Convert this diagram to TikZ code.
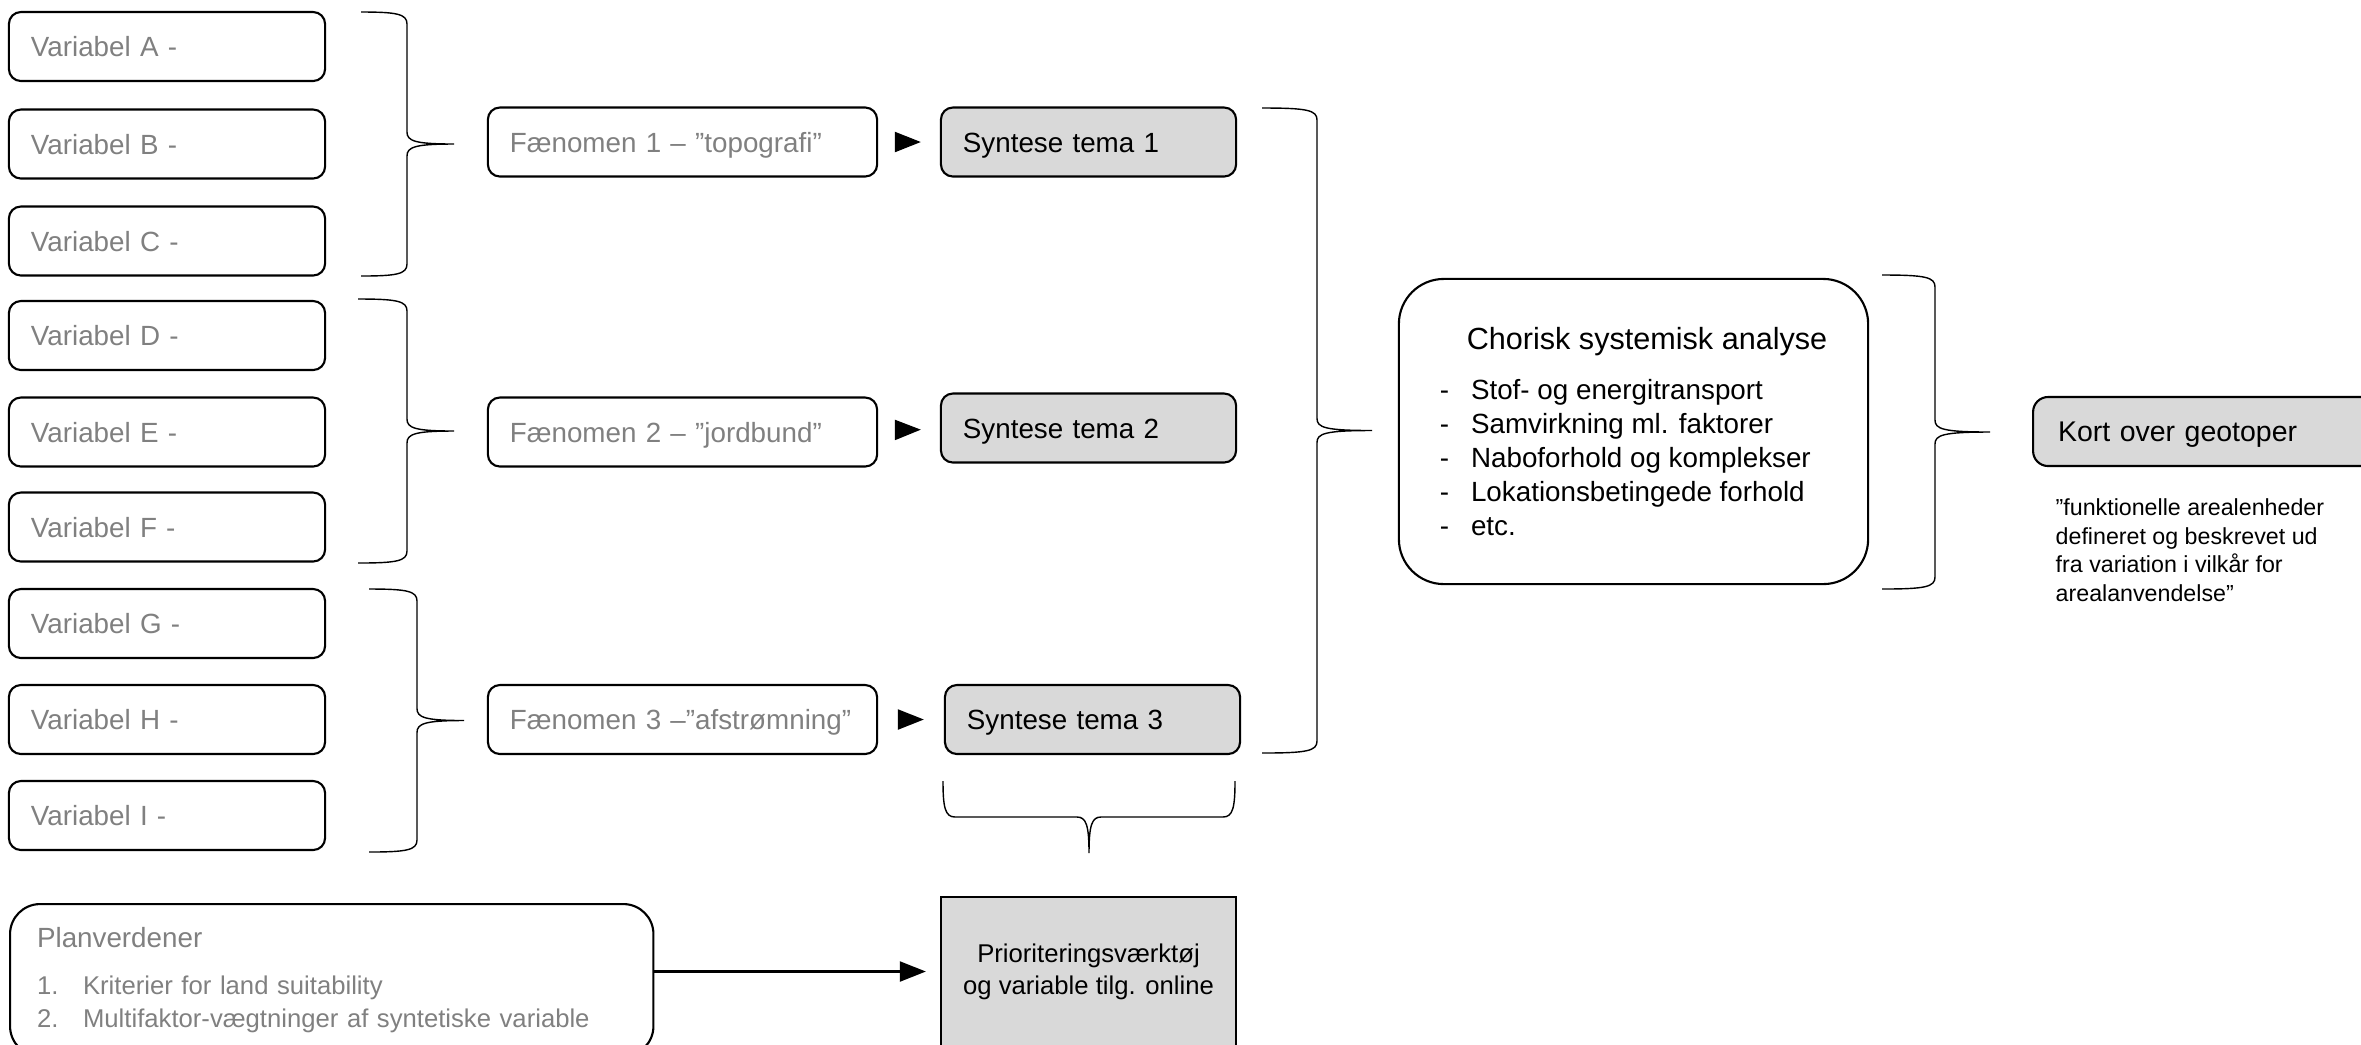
\documentclass[tikz,border=0pt]{standalone}
\usepackage{fontspec}
\setmainfont{Liberation Sans}
\usetikzlibrary{arrows.meta}
\definecolor{txtgray}{HTML}{808080}
\definecolor{boxgray}{HTML}{D9D9D9}
\tikzset{
	varbox/.style={draw,line width=0.6pt,rounded corners=0.12cm,minimum height=0.69cm,text width=2.72cm,text height=5.7pt,text depth=0pt,inner xsep=0.22cm,align=left,text=txtgray,font=\fontsize{7.9}{9.5}\selectfont},
	phenbox/.style={varbox,text width=3.45cm},
	synbox/.style={varbox,fill=boxgray,text=black,text width=2.51cm},
	bracestyle/.style={line width=0.4pt},
	tri/.style={-{Triangle[length=0.26cm,width=0.2cm]},line width=0.6pt}
}
% vertical brace: ends x, stem x, tip x, top y, bottom y
\newcommand{\vbrace}[5]{\draw[bracestyle] (#1,#4) .. controls ({#2-10},#4) and (#2,{#4+2}) .. (#2,{#4+12})
	-- (#2,{(#4+#5)/2-12}) .. controls (#2,{(#4+#5)/2-3}) and ({#2+8},{(#4+#5)/2}) .. (#3,{(#4+#5)/2})
	.. controls ({#2+8},{(#4+#5)/2}) and (#2,{(#4+#5)/2+3}) .. (#2,{(#4+#5)/2+12})
	-- (#2,{#5-12}) .. controls (#2,{#5-2}) and ({#2-10},#5) .. (#1,#5);}
% horizontal brace: ends y, stem y, tip y, left x, right x
\newcommand{\hbrace}[5]{\draw[bracestyle] (#4,#1) .. controls (#4,{#2-10}) and ({#4+2},#2) .. ({#4+12},#2)
	-- ({(#4+#5)/2-12},#2) .. controls ({(#4+#5)/2-3},#2) and ({(#4+#5)/2},{#2+8}) .. ({(#4+#5)/2},#3)
	.. controls ({(#4+#5)/2},{#2+8}) and ({(#4+#5)/2+3},#2) .. ({(#4+#5)/2+12},#2)
	-- ({#5-12},#2) .. controls ({#5-2},#2) and (#5,{#2-10}) .. (#5,#1);}
\begin{document}
\begin{tikzpicture}[x=0.01cm,y=-0.01cm]
	\useasboundingbox (0,0) rectangle (2361,1044);
	\clip (0,0) rectangle (2361,1044);
	
	\node[varbox] (vA) at (167,46.5){Variabel A -};
	\node[varbox] (vB) at (167,144){Variabel B -};
	\node[varbox] (vC) at (167,241){Variabel C -};
	\node[varbox] (vD) at (167,335.5){Variabel D -};
	\node[varbox] (vE) at (167,432){Variabel E -};
	\node[varbox] (vF) at (167,527){Variabel F -};
	\node[varbox] (vG) at (167,623.5){Variabel G -};
	\node[varbox] (vH) at (167,719.5){Variabel H -};
	\node[varbox] (vI) at (167,815.5){Variabel I -};
	
	\node[phenbox] (f1) at (682.5,142){Fænomen 1 – ”topografi”};
	\node[phenbox] (f2) at (682.5,432){Fænomen 2 – ”jordbund”};
	\node[phenbox] (f3) at (682.5,719.5){Fænomen 3 –”afstrømning”};
	
	\node[synbox] (s1) at (1088.5,142){Syntese tema 1};
	\node[synbox] (s2) at (1088.5,428){Syntese tema 2};
	\node[synbox] (s3) at (1092.5,719.5){Syntese tema 3};
	
	\node[draw,line width=0.6pt,rounded corners=0.45cm,minimum width=4.69cm,minimum height=3.05cm,align=left,font=\fontsize{7.9}{9.7}\selectfont] (cha) at (1633.5,431.5){\hspace*{0.27cm}{\fontsize{8.7}{10.4}\selectfont Chorisk systemisk analyse}\\[0.16cm]
		-\hspace{0.22cm}Stof- og energitransport\\
		-\hspace{0.22cm}Samvirkning ml. faktorer\\
		-\hspace{0.22cm}Naboforhold og komplekser\\
		-\hspace{0.22cm}Lokationsbetingede forhold\\
		-\hspace{0.22cm}etc.};
	
	\node[synbox,anchor=west,text width=3.6cm,inner xsep=0.25cm,rounded corners=0.15cm,font=\fontsize{8.1}{9.7}\selectfont] (kort) at (2032,431.5){Kort over geotoper};
	\node[anchor=base west,align=left,inner sep=0,font=\fontsize{6.6}{8.1}\selectfont] (citat) at (2055,601){”funktionelle arealenheder\\defineret og beskrevet ud\\fra variation i vilkår for\\arealanvendelse”};
	
	\node[draw,line width=0.6pt,rounded corners=0.3cm,anchor=north west,minimum height=1.52cm,text width=5.89cm,inner xsep=0.27cm,align=left,text=txtgray,font=\fontsize{7.3}{9.4}\selectfont] (plan) at (9,903){{\fontsize{7.9}{9.5}\selectfont Planverdener}\\[0.14cm]
		\makebox[0.46cm][l]{1.}Kriterier for land suitability\\
		\makebox[0.46cm][l]{2.}Multifaktor-vægtninger af syntetiske variable};
	\node[draw,line width=0.6pt,fill=boxgray,minimum width=2.95cm,minimum height=1.49cm,align=center,font=\fontsize{7.3}{9.1}\selectfont] (prio) at (1088.5,971.5){Prioriteringsværktøj\\og variable tilg. online};
	
	\draw[tri,shorten <=0.19cm,shorten >=0.19cm] (f1) -- (s1);
	\draw[tri,shorten <=0.19cm,shorten >=0.19cm] (f2) -- (s2);
	\draw[tri,shorten <=0.23cm,shorten >=0.2cm] (f3) -- (s3);
	\draw[tri,shorten >=0.14cm] (plan.east |- prio) -- (prio);
	
	\vbrace{361}{407}{454}{12}{276}
	\vbrace{358}{407}{454}{299}{563}
	\vbrace{369}{417}{464}{589}{852}
	\vbrace{1262}{1317}{1372}{108}{753}
	\vbrace{1882}{1935}{1990}{275}{589}
	\hbrace{781}{817}{853}{943}{1235}
\end{tikzpicture}
\end{document}
